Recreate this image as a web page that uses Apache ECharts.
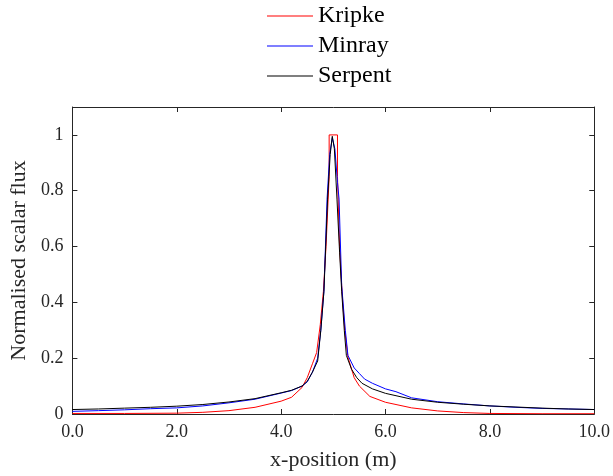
<!DOCTYPE html>
<html><head><meta charset="utf-8">
<script src="https://cdn.jsdelivr.net/npm/echarts@6/dist/echarts.min.js"></script>
<style>html,body{margin:0;padding:0;background:#fff}#c{width:613px;height:476px}</style>
</head><body><div id="c"></div>
<script>
const seriesNames = ['Kripke', 'Minray', 'Serpent'];
const kripkeX = [0,1,2,2.5,3,3.5,4,4.2,4.4,4.5,4.6,4.68,4.75,4.81,4.86,4.92,4.92,5.08,5.08,5.12,5.16,5.18,5.22,5.28,5.4,5.5,5.7,6,6.5,7,7.5,8,9,10];
const kripkeY = [0.002,0.002,0.003,0.006,0.012,0.024,0.046,0.06,0.095,0.13,0.18,0.22,0.32,0.44,0.6,0.85,1.0,1.0,0.85,0.6,0.46,0.4,0.3,0.204,0.13,0.1,0.063,0.042,0.022,0.011,0.005,0.002,0.001,0.001];
const minrayX = [0,0.5,1,1.5,2,2.5,3,3.5,4,4.2,4.4,4.5,4.6,4.7,4.76,4.82,4.88,4.93,4.98,5.03,5.08,5.11,5.16,5.23,5.28,5.4,5.5,5.6,5.75,6,6.2,6.5,7,7.5,8,8.5,9,9.5,10];
const minrayY = [0.0095,0.012,0.015,0.019,0.022,0.029,0.04,0.053,0.075,0.084,0.1,0.115,0.15,0.2,0.3,0.44,0.77,0.93,0.99,0.95,0.83,0.77,0.46,0.3,0.21,0.165,0.145,0.125,0.11,0.09,0.08,0.058,0.044,0.036,0.029,0.024,0.02,0.018,0.016];
const serpentX = [0,0.5,1,1.5,2,2.5,3,3.5,4,4.2,4.4,4.5,4.6,4.7,4.76,4.82,4.89,4.94,4.98,5.02,5.07,5.12,5.16,5.21,5.25,5.35,5.45,5.55,5.75,6,6.5,7,7.5,8,8.5,9,9.5,10];
const serpentY = [0.016,0.018,0.021,0.024,0.028,0.034,0.043,0.055,0.076,0.085,0.1,0.117,0.15,0.19,0.3,0.44,0.77,0.93,0.995,0.95,0.77,0.58,0.44,0.3,0.21,0.16,0.13,0.11,0.09,0.074,0.053,0.042,0.035,0.029,0.025,0.021,0.018,0.016];
const xTicks = [0,2,4,6,8,10];
const yTicks = [0,0.2,0.4,0.6,0.8,1];
const colors = ['#ff0000', '#0000ff', '#000000'];

const FONT = 'Liberation Serif';
const axisColor = '#262626';
const pairs = (xs, ys) => xs.map((x, i) => [x, ys[i]]);
const allX = [kripkeX, minrayX, serpentX];
const allY = [kripkeY, minrayY, serpentY];

const chart = echarts.init(document.getElementById('c'), null, {renderer: 'canvas'});
const baseAxis = {
  axisLine: {show: true, onZero: false, lineStyle: {color: axisColor, width: 1}},
  axisTick: {show: true, inside: true, length: 5, lineStyle: {color: axisColor}},
  splitLine: {show: false}
};
chart.setOption({
  animation: false,
  backgroundColor: '#ffffff',
  textStyle: {fontFamily: FONT},
  legend: {
    orient: 'vertical', left: 267, top: 4, padding: 0,
    icon: 'rect', itemWidth: 46, itemHeight: 1, itemGap: 6,
    textStyle: {fontFamily: FONT, fontSize: 24, color: '#000', lineHeight: 24},
    data: seriesNames
  },
  grid: {left: 72, right: 18, top: 107, bottom: 58},
  xAxis: [
    Object.assign({}, baseAxis, {
      type: 'value', min: xTicks[0], max: xTicks[xTicks.length-1], interval: xTicks[1]-xTicks[0],
      position: 'bottom',
      name: 'x-position (m)', nameLocation: 'middle', nameGap: 35,
      nameTextStyle: {fontFamily: FONT, fontSize: 22, color: axisColor},
      axisLabel: {fontFamily: FONT, fontSize: 18, color: axisColor, margin: 9, formatter: v => v.toFixed(1)}
    }),
    Object.assign({}, baseAxis, {
      type: 'value', min: xTicks[0], max: xTicks[xTicks.length-1], interval: xTicks[1]-xTicks[0],
      position: 'top', axisLabel: {show: false}
    })
  ],
  yAxis: [
    Object.assign({}, baseAxis, {
      type: 'value', min: 0, max: 1.1, interval: yTicks[1]-yTicks[0],
      position: 'left',
      name: 'Normalised scalar flux', nameLocation: 'middle', nameGap: 37,
      nameTextStyle: {fontFamily: FONT, fontSize: 22, color: axisColor},
      axisLabel: {fontFamily: FONT, fontSize: 18, color: axisColor, margin: 9,
        formatter: v => (v > 1.05 ? '' : String(Math.round(v * 10) / 10))}
    }),
    Object.assign({}, baseAxis, {
      type: 'value', min: 0, max: 1.1, interval: yTicks[1]-yTicks[0],
      position: 'right', axisLabel: {show: false}
    })
  ],
  series: seriesNames.map((name, i) => ({
    name, type: 'line', xAxisIndex: 0, yAxisIndex: 0,
    data: pairs(allX[i], allY[i]),
    symbol: 'none', smooth: false,
    lineStyle: {color: colors[i], width: 1},
    itemStyle: {color: colors[i]}
  }))
});
</script></body></html>
